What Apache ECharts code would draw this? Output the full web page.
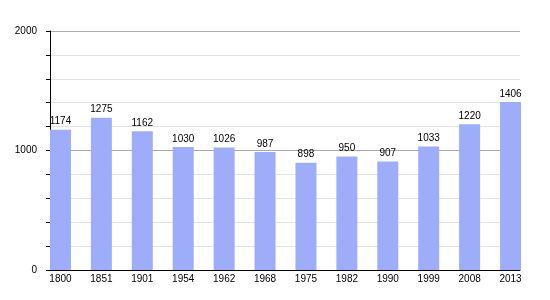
<!DOCTYPE html>
<html>
<head>
<meta charset="utf-8">
<script src="https://cdn.jsdelivr.net/npm/echarts@6/dist/echarts.min.js"></script>
<style>html,body{margin:0;padding:0;background:#fff}#c{width:550px;height:300px}</style>
</head>
<body>
<div id="c"></div>
<script>
var years = ['1800','1851','1901','1954','1962','1968','1975','1982','1990','1999','2008','2013'];
var population = [1174,1275,1162,1030,1026,987,898,950,907,1033,1220,1406];
var yTickLabels = [0, 1000, 2000];

var chart = echarts.init(document.getElementById('c'), null, {renderer: 'canvas'});
var font = 'Liberation Sans, Arial, Helvetica, sans-serif';
chart.setOption({
  animation: false,
  backgroundColor: '#fff',
  grid: [
    {left: 50, right: 30, top: 31, bottom: 30},
    {left: 40, right: 19, top: 31, bottom: 30}
  ],
  xAxis: [
    {gridIndex: 0, type: 'category', data: years,
     axisLine: {show: true, lineStyle: {color: '#000', width: 1}},
     axisTick: {show: false}, axisLabel: {show: false}, splitLine: {show: false}},
    {gridIndex: 1, type: 'category', data: years,
     axisLine: {show: false}, axisTick: {show: false},
     axisLabel: {color: '#000', fontSize: 10, fontFamily: font, margin: 4}}
  ],
  yAxis: [
    {gridIndex: 0, type: 'value', min: 0, max: 2000, interval: 200,
     axisLine: {show: true, lineStyle: {color: '#000', width: 1}},
     axisTick: {show: true, inside: false, length: 4, lineStyle: {color: '#000'}},
     axisLabel: {color: '#000', fontSize: 10, fontFamily: font, margin: 13,
       formatter: function (v) { return yTickLabels.indexOf(v) >= 0 ? String(v) : ''; }},
     splitLine: {show: true, lineStyle: {color: ['#aaaaaa','#e2e2e2','#e2e2e2','#e2e2e2','#e2e2e2'], width: 1}}},
    {gridIndex: 1, type: 'value', min: 0, max: 2000, show: false}
  ],
  series: [{
    type: 'bar', xAxisIndex: 1, yAxisIndex: 1,
    data: population, barWidth: 21,
    itemStyle: {color: '#9dadf9'},
    label: {show: true, position: 'top', distance: 3, color: '#000', fontSize: 10, fontFamily: font}
  }]
});
</script>
</body>
</html>
